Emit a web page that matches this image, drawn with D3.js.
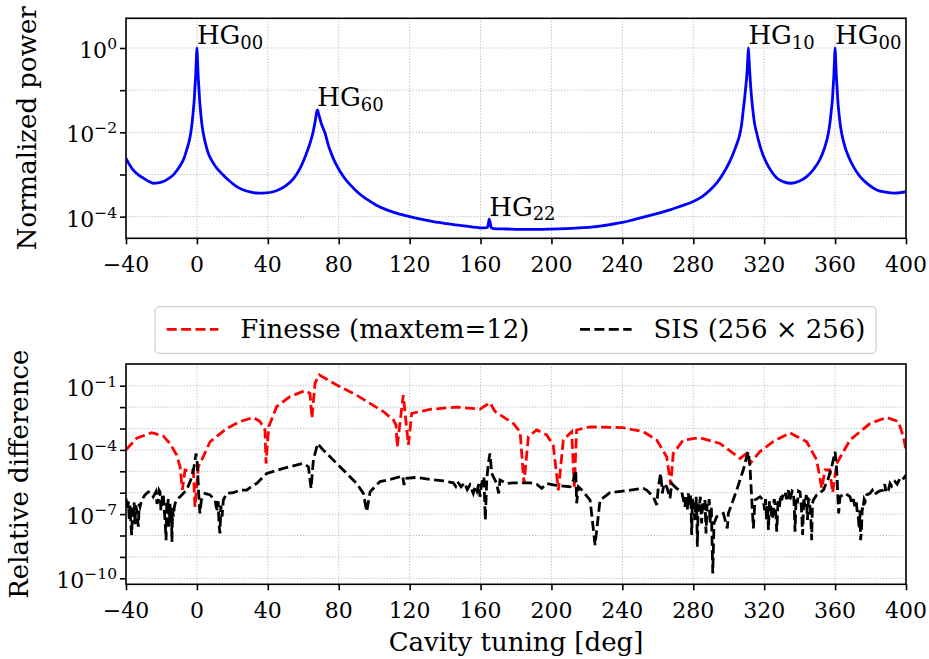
<!DOCTYPE html>
<html>
<head>
<meta charset="utf-8">
<script src="https://cdn.jsdelivr.net/npm/d3@7"></script>
<style>
  body { margin: 0; background: #fff; }
  text { font-family: "DejaVu Serif", serif; fill: #000; }
</style>
</head>
<body>
<div id="chart"></div>
<script>
// ---- data: [cavity tuning (deg), value] ----
const powerCurve = [
  [-40, 2.42e-3], [-38, 1.7e-3], [-36, 1.28e-3], [-33, 9.8e-4], [-30, 8.1e-4],
  [-27, 6.8e-4], [-24.6, 6.2e-4], [-22, 6.3e-4], [-19, 6.8e-4], [-16, 8.0e-4],
  [-13.3, 9.8e-4], [-11, 1.3e-3], [-8.6, 1.86e-3], [-7, 2.6e-3], [-5.8, 3.8e-3],
  [-4.5, 5.8e-3], [-3.5, 9.5e-3], [-2.7, 1.7e-2], [-2.0, 3.4e-2], [-1.5, 6.0e-2],
  [-1.1, 0.12], [-0.7, 0.22], [-0.35, 0.5], [0, 1.0], [0.35, 0.5], [0.7, 0.22],
  [1.1, 0.12], [1.5, 6.0e-2], [2.0, 3.4e-2], [2.7, 1.7e-2], [3.6, 9.5e-3],
  [4.8, 5.5e-3], [6.4, 3.2e-3], [8.5, 2.1e-3], [11.2, 1.41e-3], [14.5, 1.0e-3],
  [18.7, 6.8e-4], [22, 5.3e-4], [26.2, 4.3e-4], [30, 3.85e-4], [34.6, 3.6e-4],
  [39, 3.65e-4], [43.1, 3.9e-4], [47, 4.5e-4], [50.6, 5.6e-4], [54.5, 8.0e-4],
  [58.2, 1.4e-3], [61, 2.6e-3], [63.8, 5.5e-3], [65.5, 1.0e-2], [66.8, 1.9e-2],
  [67.9, 3.4e-2], [68.8, 2.6e-2], [70, 1.7e-2], [72.3, 9.5e-3], [74, 5.2e-3],
  [76, 3.0e-3], [78.3, 1.8e-3], [80.7, 1.2e-3], [84, 7.5e-4], [88.2, 4.8e-4],
  [92, 3.4e-4], [95.8, 2.6e-4], [101, 1.9e-4], [107.1, 1.45e-4], [113, 1.2e-4],
  [120.2, 1.0e-4], [127, 8.6e-5], [133.4, 7.6e-5], [141, 6.8e-5], [148.4, 6.2e-5],
  [155, 5.7e-5], [162.5, 5.4e-5], [164.0, 5.6e-5], [164.9, 8.7e-5], [166.0, 5.6e-5],
  [167.2, 5.2e-5], [175, 5.1e-5], [182, 5.0e-5], [189.8, 5.0e-5], [199, 5.05e-5],
  [208.6, 5.2e-5], [218, 5.5e-5], [227.4, 6.0e-5], [233, 6.5e-5], [240, 7.3e-5],
  [246, 8.4e-5], [251.8, 9.7e-5], [259, 1.17e-4], [266.9, 1.45e-4], [273, 1.78e-4],
  [279.7, 2.26e-4], [285, 3.0e-4], [289.5, 4.3e-4], [293.5, 6.5e-4], [297, 1.07e-3],
  [300, 1.8e-3], [302.6, 3.2e-3], [304.7, 5.5e-3], [306.4, 9.5e-3], [307.4, 1.7e-2],
  [308.2, 3.4e-2], [308.9, 6.0e-2], [309.6, 0.12], [310.3, 0.25], [310.7, 0.5],
  [311.1, 1.0], [311.5, 0.5], [311.9, 0.25], [312.4, 0.12], [313.0, 6.0e-2],
  [313.6, 3.4e-2], [314.5, 1.7e-2], [315.8, 9.5e-3], [317.5, 5.0e-3], [319.5, 2.8e-3],
  [323, 1.4e-3], [327.1, 8.3e-4], [331, 6.7e-4], [335.5, 6.2e-4], [340, 7.0e-4],
  [344, 8.9e-4], [348, 1.35e-3], [351.5, 2.3e-3], [354, 4.2e-3], [356.2, 9.5e-3],
  [357.2, 1.8e-2], [357.9, 3.4e-2], [358.5, 6.0e-2], [358.9, 0.12], [359.3, 0.22],
  [359.65, 0.5], [360, 1.0], [360.35, 0.5], [360.7, 0.22], [361.1, 0.12],
  [361.5, 6.0e-2], [362.0, 3.4e-2], [362.7, 1.8e-2], [363.7, 9.5e-3], [365.4, 4.8e-3],
  [367.5, 2.7e-3], [370.5, 1.5e-3], [374.1, 8.9e-4], [378.5, 5.9e-4], [383.5, 4.3e-4],
  [388.5, 3.8e-4], [393.8, 3.6e-4], [397, 3.7e-4], [400, 3.9e-4]
];

const peakModes = ["00", "60", "22", "10", "00"];
const peakTuning = [0, 67.9, 164.9, 311.1, 360];
const peakPower = [1, 0.034, 8.7e-5, 1, 1];

const finesseDiff = [
  [-40, 1.0e-4], [-34, 3.5e-4], [-25.5, 6.4e-4], [-18.9, 4.4e-4], [-15.2, 2.0e-4],
  [-11.4, 5.7e-5], [-9.5, 1.64e-5], [-8.2, 1.35e-6], [-6.7, 1.15e-5], [-4.0, 1.0e-5],
  [-2.0, 1.15e-5], [-1.1, 2.2e-7], [0.8, 1.66e-5], [3.6, 4.8e-5], [7.4, 2.4e-4],
  [16.8, 1.0e-3], [24.3, 2.1e-3], [31.8, 3.3e-3], [35.6, 2.1e-3], [38.4, 8.5e-4],
  [39.0, 2.3e-5], [40.5, 1.2e-3], [45, 1.05e-2], [52.5, 3.1e-2], [61, 5.9e-2],
  [63.8, 4.4e-2], [64.9, 3.0e-3], [66.6, 0.13], [69, 0.32], [78.9, 0.107],
  [90.1, 3.6e-2], [105.2, 6.2e-3], [110.8, 2.5e-3], [112.3, 1.5e-3], [113, 1.4e-4],
  [116.4, 3.6e-2], [119.3, 1.7e-4], [121.2, 5.1e-3], [131.5, 7.9e-3], [146.6, 1.0e-2],
  [159.7, 8.1e-3], [165.3, 1.6e-2], [168.2, 6.2e-3], [178.5, 1.7e-3], [182.3, 7.1e-4],
  [184.5, 2.75e-6], [187, 4.2e-4], [191.7, 8.5e-4], [197.3, 5.0e-4], [201, 1.7e-4],
  [203.9, 1.3e-6], [206.7, 2.9e-4], [211.4, 7.1e-4], [212.9, 1.9e-6], [214.2, 8.5e-4],
  [221.7, 1.2e-3], [240, 1.1e-3], [251.8, 7.1e-4], [259.4, 2.9e-4], [265, 4.8e-5],
  [267.3, 2.3e-6], [268.7, 6.9e-5], [274.4, 2.9e-4], [283.8, 3.7e-4], [295.1, 2.0e-4],
  [306.4, 4.0e-5], [310.1, 6.9e-5], [312, 2.3e-5], [317.6, 8.3e-5], [325.2, 2.5e-4],
  [334.6, 6.3e-4], [344, 2.4e-4], [349.6, 3.4e-5], [352.5, 1.6e-6], [354.3, 1.15e-5],
  [357, 1.15e-5], [358.6, 1.0e-6], [360.9, 2.3e-5], [368.4, 2.9e-4], [379.7, 1.7e-3],
  [389.1, 3.3e-3], [395.7, 2.1e-3], [398.5, 4.2e-4], [400, 1.0e-4]
];

const sisDiff = [
  [-40, 5.4e-7], [-39.3, 1.5e-7], [-38.7, 4.0e-7], [-38.2, 6.0e-8], [-37.7, 2.5e-7],
  [-37.2, 3.0e-8], [-36.8, 1.05e-8], [-36.3, 2.0e-7], [-35.9, 7.6e-8], [-35.4, 3.5e-7],
  [-34.9, 3.1e-8], [-34.5, 2.5e-7], [-34.0, 1.55e-7], [-33.5, 5.0e-8], [-33.0, 2.6e-8],
  [-32.6, 3.0e-7], [-32.1, 2.2e-7], [-31.2, 4.5e-7], [-29.3, 7.8e-7], [-27.4, 1.1e-6],
  [-25.5, 9.3e-7], [-24.6, 6.5e-7], [-23.1, 1.1e-6], [-22.5, 3.0e-7], [-21.8, 4.5e-7],
  [-21.3, 1.3e-6], [-20.8, 1.1e-6], [-20.3, 1.5e-7], [-19.9, 2.2e-7], [-19.4, 9.0e-7],
  [-18.9, 6.5e-7], [-18.4, 1.5e-7], [-18.0, 5.3e-8], [-17.4, 6.1e-9], [-17.0, 4.0e-7],
  [-16.7, 1.08e-7], [-16.2, 5.0e-7], [-15.6, 2.6e-8], [-15.2, 3.0e-7], [-14.8, 7.6e-8],
  [-14.4, 2.0e-7], [-14.1, 5.1e-9], [-13.7, 1.5e-7], [-13.3, 7.6e-8], [-12.7, 2.2e-7],
  [-11.8, 4.5e-7], [-9.5, 6.5e-7], [-5.8, 1.33e-6], [-3.5, 3.9e-6], [-1.6, 1.64e-5],
  [-0.5, 6.9e-5], [0.2, 2.35e-5], [1.0, 9.3e-7], [1.7, 1.08e-7], [2.5, 4.5e-7],
  [4.6, 9.3e-7], [7.4, 7.8e-7], [10.2, 4.5e-7], [11.0, 2.0e-7], [11.5, 1.55e-7],
  [12.0, 4.0e-7], [12.5, 3.0e-8], [13.0, 1.26e-8], [13.5, 2.5e-7], [14.2, 7.6e-8],
  [14.9, 4.5e-7], [16.8, 9.3e-7], [20.6, 1.0e-6], [24.3, 1.33e-6], [28.1, 1.33e-6],
  [31.8, 2.3e-6], [33.7, 2.7e-6], [39.4, 8.0e-6], [48.8, 1.37e-5], [60.0, 2.35e-5],
  [62.9, 1.64e-5], [64.4, 1.6e-6], [65.7, 3.4e-5], [68.1, 2.0e-4], [70.4, 1.18e-4],
  [78.8, 2.35e-5], [90.1, 2.7e-6], [93.9, 9.3e-7], [95.8, 1.3e-7], [97.7, 1.1e-6],
  [101.4, 2.3e-6], [103.3, 3.3e-6], [108.9, 4.2e-6], [114.6, 5.6e-6], [116.1, 6.0e-6],
  [116.8, 2.3e-6], [117.6, 4.7e-6], [124.0, 5.2e-6], [131.5, 4.2e-6], [139.0, 3.6e-6],
  [144.6, 2.9e-6], [146, 2.0e-6], [147, 3.3e-6], [149, 1.9e-6], [151, 2.9e-6],
  [152.5, 1.4e-6], [154, 2.3e-6], [155.9, 9.3e-7], [157, 2.0e-6], [158, 1.2e-6],
  [159, 2.5e-6], [159.7, 6.5e-7], [160.6, 2.7e-6], [161.9, 5.6e-6], [162.7, 5.3e-8],
  [163.5, 3.9e-6], [164.4, 2.35e-5], [165.3, 6.9e-5], [166.3, 8.0e-6], [167.2, 5.6e-6],
  [169.1, 2.7e-6], [170.2, 9.3e-7], [171.0, 3.9e-6], [174.7, 2.7e-6], [178.5, 2.9e-6],
  [182.3, 2.9e-6], [187.9, 2.9e-6], [191.7, 2.5e-6], [194.5, 1.6e-6], [197.3, 2.7e-6],
  [201.1, 2.3e-6], [206.7, 2.05e-6], [210.5, 1.9e-6], [212.4, 3.9e-6], [213.7, 1.15e-5],
  [214.2, 3.2e-7], [215.2, 1.9e-6], [217.1, 1.33e-6], [221.8, 4.5e-7], [224.6, 3.6e-9],
  [227.4, 4.5e-7], [233.0, 1.0e-6], [242.4, 1.24e-6], [251.8, 1.6e-6], [253.7, 1.33e-6],
  [255.6, 9.3e-7], [257.5, 6.5e-7], [259.4, 2.65e-7], [260.3, 1.9e-6], [261.6, 8.0e-6],
  [262.6, 9.3e-7], [263.5, 2.7e-6], [265.0, 1.9e-6], [266.9, 5.4e-7], [267.8, 2.7e-6],
  [270.6, 1.6e-6], [273.5, 1.1e-6], [275.3, 2.2e-7], [276.0, 8.0e-7], [276.6, 1.5e-7],
  [277.2, 9.3e-7], [277.8, 2.5e-7], [278.2, 3.2e-7], [278.6, 8.0e-7], [279.1, 1.05e-8],
  [279.5, 5.0e-7], [280.0, 3.2e-7], [280.5, 1.0e-7], [281.0, 5.3e-8], [281.6, 6.5e-7],
  [282.0, 1.0e-7], [282.3, 3.0e-9], [282.8, 3.0e-7], [283.4, 2.2e-7], [284.0, 6.5e-7],
  [284.4, 1.0e-7], [284.7, 3.7e-8], [285.3, 4.0e-7], [286.1, 1.55e-7], [286.6, 4.5e-7],
  [287.2, 1.26e-8], [287.8, 3.0e-7], [288.5, 2.2e-7], [289.0, 5.0e-7], [289.4, 3.7e-8],
  [290.2, 2.0e-7], [291.0, 1.7e-10], [291.7, 3.7e-8], [293.2, 7.6e-8], [297.0, 1.08e-7],
  [299.2, 2.15e-8], [299.8, 1.08e-7], [304.5, 1.33e-6], [308.2, 1.15e-5], [310.1, 4.8e-5],
  [311.1, 8.2e-5], [312.0, 1.64e-5], [312.9, 6.5e-7], [313.9, 2.15e-8], [314.8, 4.5e-7],
  [317.7, 6.5e-7], [319.5, 4.5e-7], [320.3, 1.5e-7], [320.8, 5.0e-7], [321.4, 5.3e-8],
  [321.9, 3.0e-7], [322.4, 1.8e-8], [323.0, 4.0e-7], [323.7, 2.2e-7], [324.4, 6.0e-8],
  [325.2, 1.08e-7], [325.6, 5.0e-7], [326.1, 3.2e-7], [326.6, 1.0e-7], [327.1, 1.5e-8],
  [327.8, 4.0e-7], [328.6, 2.2e-7], [329.3, 8.0e-7], [329.9, 4.5e-7], [330.8, 9.0e-7],
  [331.8, 1.1e-6], [332.6, 5.0e-7], [333.6, 1.33e-6], [334.3, 4.0e-7], [335.0, 6.5e-7],
  [335.8, 1.2e-6], [336.5, 1.1e-6], [337.0, 2.0e-7], [337.4, 1.5e-8], [338.0, 6.0e-7],
  [338.7, 3.2e-7], [339.4, 1.2e-6], [340.2, 1.1e-6], [341.0, 2.0e-7], [341.7, 1.05e-8],
  [342.3, 6.0e-7], [343.0, 2.2e-7], [343.7, 8.0e-7], [344.4, 5.3e-8], [345.0, 5.0e-7],
  [345.5, 4.5e-7], [346.2, 1.0e-7], [346.8, 6.1e-9], [347.2, 3.0e-7], [347.7, 4.5e-7],
  [349.6, 7.8e-7], [353.4, 1.33e-6], [356.2, 4.7e-6], [358.1, 1.64e-5], [360.0, 8.2e-5],
  [360.9, 1.15e-5], [361.5, 9.3e-7], [362.0, 1.08e-7], [362.8, 6.5e-7], [365.6, 9.3e-7],
  [368.4, 6.5e-7], [369.5, 3.0e-7], [370.3, 5.0e-7], [371.2, 2.2e-7], [372.0, 3.5e-7],
  [372.6, 1.0e-7], [373.1, 7.6e-8], [373.6, 2.0e-8], [374.0, 1.5e-7], [374.4, 6.1e-9],
  [374.9, 2.0e-8], [375.3, 2.0e-7], [375.6, 1.55e-7], [376.4, 5.0e-7], [377.0, 4.0e-7],
  [377.8, 7.8e-7], [379.7, 9.3e-7], [381, 1.3e-6], [382, 8.0e-7], [383.5, 1.0e-6],
  [385, 1.2e-6], [387.2, 1.33e-6], [388, 2.5e-6], [388.6, 1.2e-6], [389.1, 1.9e-6],
  [390.2, 1.5e-6], [391.0, 2.7e-6], [392, 2.0e-6], [393.8, 3.3e-6], [395, 2.5e-6],
  [396.6, 4.7e-6], [398, 4.0e-6], [400, 6.7e-6]
];

const xTicks = [-40, 0, 40, 80, 120, 160, 200, 240, 280, 320, 360, 400];
const topDecades = [-4, -3, -2, -1, 0];
const topLabelled = [-4, -2, 0];
const botDecades = [-10, -9, -8, -7, -6, -5, -4, -3, -2, -1];
const botLabelled = [-10, -7, -4, -1];
const legendNames = ["Finesse (maxtem=12)", "SIS (256 \u00d7 256)"];

// ---- layout ----
const W = 929, H = 659;
const L = 126, R = 906;
const top1 = 18.3, bot1 = 238.3;
const top2 = 364, bot2 = 584.3;

const svg = d3.select("#chart").append("svg")
    .attr("width", W).attr("height", H);

const x = d3.scaleLinear().domain([-40, 400]).range([L, R]);
const yTop = d3.scaleLog().domain([Math.pow(10, -4.513), Math.pow(10, 0.704)]).range([bot1, top1]);
const yBot = d3.scaleLog().domain([Math.pow(10, -10.28), Math.pow(10, 0.014)]).range([bot2, top2]);

const minus = s => String(s).replace("-", "\u2212");

function panel(y, t, b, decades, labelled, id) {
  const g = svg.append("g");
  // grid
  g.selectAll(".gx").data(xTicks).enter().append("line")
      .attr("x1", d => x(d)).attr("x2", d => x(d)).attr("y1", t).attr("y2", b)
      .attr("stroke", "#b0b0b0").attr("stroke-width", 0.9).attr("stroke-dasharray", "1.1,1.8");
  g.selectAll(".gy").data(decades).enter().append("line")
      .attr("x1", L).attr("x2", R)
      .attr("y1", d => y(Math.pow(10, d))).attr("y2", d => y(Math.pow(10, d)))
      .attr("stroke", "#b0b0b0").attr("stroke-width", 0.9).attr("stroke-dasharray", "1.1,1.8");

  // axes
  const ax = g.append("g").attr("transform", `translate(0,${b})`)
      .call(d3.axisBottom(x).tickValues(xTicks).tickSize(6).tickSizeOuter(0).tickFormat(""));
  const ay = g.append("g").attr("transform", `translate(${L},0)`)
      .call(d3.axisLeft(y).tickValues(decades.map(d => Math.pow(10, d))).tickSize(6).tickSizeOuter(0).tickFormat(""));
  [ax, ay].forEach(a => {
    a.select(".domain").remove();
    a.selectAll(".tick line").attr("stroke", "#000").attr("stroke-width", 1.6);
  });

  g.selectAll(".xl").data(xTicks).enter().append("text")
      .attr("x", d => x(d)).attr("y", b + 33.5)
      .attr("text-anchor", "middle").style("font-size", "22px")
      .text(d => minus(d));

  const yl = g.selectAll(".yl").data(labelled).enter().append("text")
      .attr("x", 117).attr("y", d => y(Math.pow(10, d)) + 10)
      .attr("text-anchor", "end").style("font-size", "22px");
  yl.append("tspan").text("10");
  yl.append("tspan").attr("dy", -9).style("font-size", "15.5px").text(d => minus(d));

  svg.append("clipPath").attr("id", id).append("rect")
      .attr("x", L).attr("y", t).attr("width", R - L).attr("height", b - t);
  return g;
}

const g1 = panel(yTop, top1, bot1, topDecades, topLabelled, "clip1");
const g2 = panel(yBot, top2, bot2, botDecades, botLabelled, "clip2");

// top curve
g1.append("path").datum(powerCurve)
    .attr("clip-path", "url(#clip1)")
    .attr("fill", "none").attr("stroke", "#0000ff").attr("stroke-width", 2.8)
    .attr("stroke-linejoin", "round")
    .attr("d", d3.line().x(d => x(d[0])).y(d => yTop(d[1])).curve(d3.curveMonotoneX));

// mode labels
const ann = g1.selectAll(".ann").data(peakTuning).enter().append("text")
    .attr("x", d => x(d))
    .attr("y", (d, i) => yTop(peakPower[i]) - 3.5)
    .style("font-size", "26px");
ann.append("tspan").text("HG");
ann.append("tspan").attr("dy", 4.5).style("font-size", "18px").text((d, i) => peakModes[i]);

// bottom curves
const lineB = d3.line().x(d => x(d[0])).y(d => yBot(d[1]));
g2.append("path").datum(finesseDiff)
    .attr("clip-path", "url(#clip2)")
    .attr("fill", "none").attr("stroke", "#ff0000").attr("stroke-width", 2.8)
    .attr("stroke-dasharray", "10,4.4")
    .attr("d", lineB);
g2.append("path").datum(sisDiff)
    .attr("clip-path", "url(#clip2)")
    .attr("fill", "none").attr("stroke", "#000").attr("stroke-width", 2.8)
    .attr("stroke-dasharray", "10,4.4")
    .attr("d", lineB);

// frames
[[top1, bot1], [top2, bot2]].forEach(([t, b]) => {
  svg.append("rect").attr("x", L).attr("y", t).attr("width", R - L).attr("height", b - t)
      .attr("fill", "none").attr("stroke", "#000").attr("stroke-width", 1.6);
});

// axis titles
svg.append("text").attr("transform", `translate(36,${(top1 + bot1) / 2}) rotate(-90)`)
    .attr("text-anchor", "middle").style("font-size", "26px").text("Normalized power");
svg.append("text").attr("transform", `translate(28,${(top2 + bot2) / 2}) rotate(-90)`)
    .attr("text-anchor", "middle").style("font-size", "26px").text("Relative difference");
svg.append("text").attr("x", (L + R) / 2).attr("y", 651)
    .attr("text-anchor", "middle").style("font-size", "26px").text("Cavity tuning [deg]");

// legend
const lg = svg.append("g");
lg.append("rect").attr("x", 155).attr("y", 306.7).attr("width", 721).attr("height", 46.6)
    .attr("rx", 4).attr("fill", "#fff").attr("fill-opacity", 0.8)
    .attr("stroke", "#d0d0d0").attr("stroke-width", 1.3);
const legendColors = ["#ff0000", "#000"];
const legendLineX = [166.7, 580];
legendNames.forEach((name, i) => {
  lg.append("line").attr("x1", legendLineX[i]).attr("x2", legendLineX[i] + 51.6)
      .attr("y1", 329.3).attr("y2", 329.3)
      .attr("stroke", legendColors[i]).attr("stroke-width", 2.8).attr("stroke-dasharray", "10,4.4");
  lg.append("text").attr("x", legendLineX[i] + 73.5).attr("y", 338.3)
      .style("font-size", "26px").text(name);
});
</script>
</body>
</html>
